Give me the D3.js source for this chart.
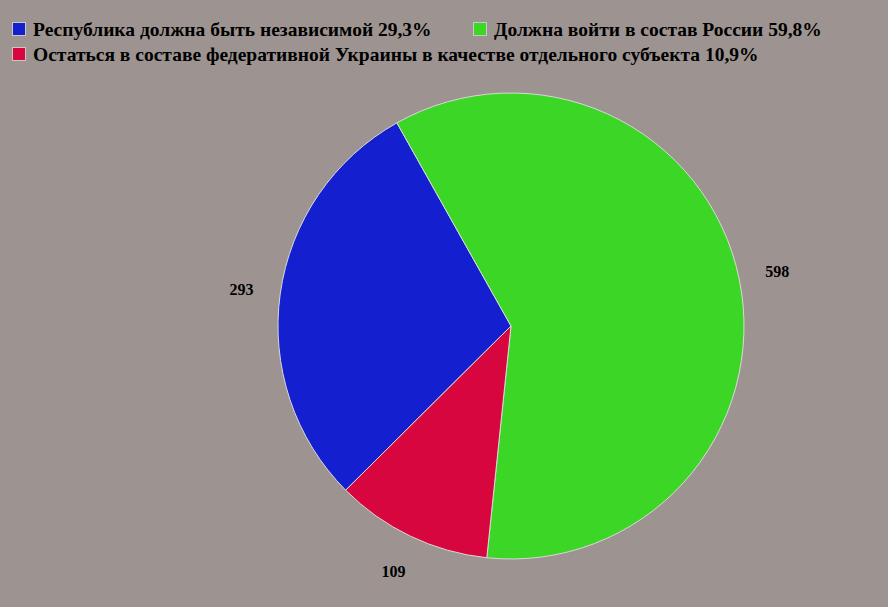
<!DOCTYPE html>
<html><head><meta charset="utf-8">
<script src="https://cdn.jsdelivr.net/npm/d3@7"></script>
<style>
html,body{margin:0;padding:0;background:#9d9491;}
svg{display:block;}
</style></head>
<body>
<svg id="chart" width="888" height="607"></svg>
<script>
const categories = [
  "Республика должна быть независимой 29,3%",
  "Должна войти в состав России 59,8%",
  "Остаться в составе федеративной Украины в качестве отдельного субъекта 10,9%"
];
const values = [293, 598, 109];
const valueLabels = ["293", "598", "109"];
const colors = ["#1420cf", "#3cd726", "#d8063f"];

const W = 888, H = 607;
const svg = d3.select("#chart");
svg.append("rect").attr("width", W).attr("height", H).attr("fill", "#9d9491");

const cx = 511, cy = 326, r = 233, labelR = 272;
const pie = d3.pie().sort(null).value(d => d)
  .startAngle(-134.8 * Math.PI / 180)
  .endAngle((360 - 134.8) * Math.PI / 180);
const arcs = pie(values);
const arc = d3.arc().innerRadius(0).outerRadius(r);
const labelArc = d3.arc().innerRadius(labelR).outerRadius(labelR);

const g = svg.append("g").attr("transform", `translate(${cx},${cy})`);
g.selectAll("path").data(arcs).join("path")
  .attr("d", arc)
  .attr("fill", (d, i) => colors[i])
  .attr("stroke", "#d8d8d8")
  .attr("stroke-width", 1);

g.selectAll("text").data(arcs).join("text")
  .attr("transform", d => `translate(${labelArc.centroid(d)})`)
  .attr("text-anchor", "middle")
  .attr("dy", "0.38em")
  .attr("font-family", "Liberation Serif, Times New Roman, serif")
  .attr("font-size", 16)
  .attr("font-weight", "bold")
  .attr("fill", "#000")
  .text((d, i) => valueLabels[i]);

// Legend
const legendPos = [[12, 22], [473, 22], [12, 47]];
const lg = svg.append("g");
categories.forEach((c, i) => {
  const [x, y] = legendPos[i];
  lg.append("rect").attr("x", x + 0.5).attr("y", y + 0.5).attr("width", 13).attr("height", 13)
    .attr("fill", colors[i]).attr("stroke", "#c8c8c8").attr("stroke-width", 1);
  lg.append("text").attr("x", x + 21).attr("y", y + 14)
    .attr("font-family", "Liberation Serif, Times New Roman, serif")
    .attr("font-size", 19.5).attr("font-weight", "bold").attr("fill", "#000")
    .text(c);
});
</script>
</body></html>
